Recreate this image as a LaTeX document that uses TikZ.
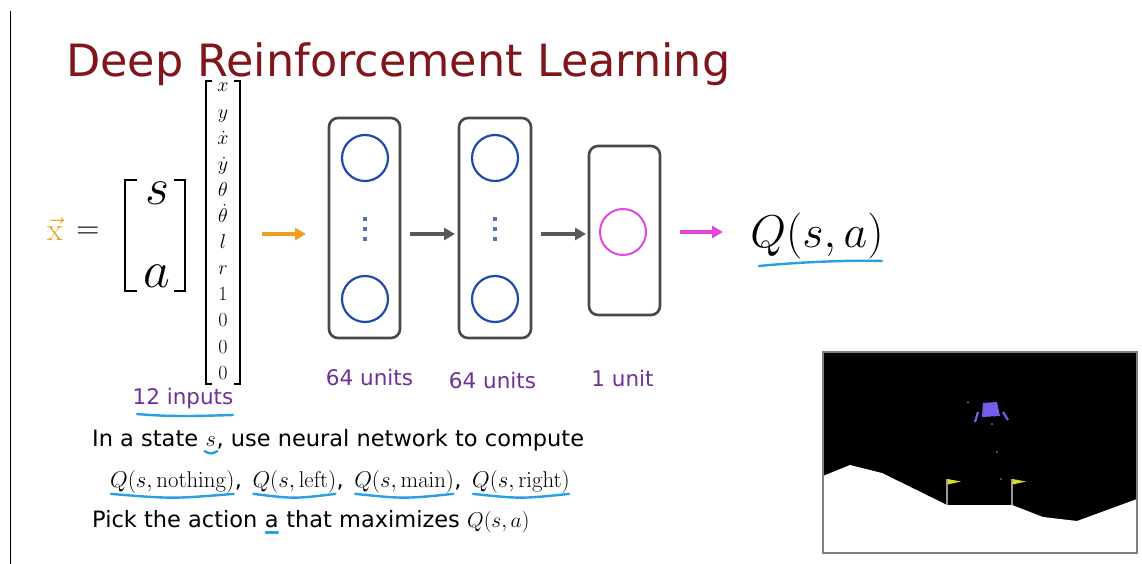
\RequirePackage{fix-cm}
\documentclass[tikz,border=0pt]{standalone}
\usepackage[no-math]{fontspec}
\setmainfont{DejaVu Sans}
\usetikzlibrary{arrows.meta}

\definecolor{titlered}{RGB}{128,22,28}
\definecolor{labelpurple}{RGB}{112,48,150}
\definecolor{markblue}{RGB}{40,160,225}
\definecolor{unitblue}{RGB}{30,75,170}
\definecolor{outmagenta}{RGB}{225,70,225}
\definecolor{inorange}{RGB}{240,158,30}
\definecolor{arrowgray}{RGB}{88,88,88}
\definecolor{boxgray}{RGB}{72,72,72}
\definecolor{dotblue}{RGB}{85,115,175}
\definecolor{landerpurple}{RGB}{118,92,235}
\definecolor{flagyellow}{RGB}{212,222,40}

\tikzset{
  layerbox/.style={draw=boxgray, line width=2.6, rounded corners=9},
  unit/.style={circle, draw=unitblue, line width=2.2, minimum size=46, inner sep=0},
  outunit/.style={circle, draw=outmagenta, line width=2, minimum size=46, inner sep=0},
  flow/.style={line width=3.6, -{Triangle[length=11,width=12]}},
  uline/.style={draw=markblue, line width=2.4, line cap=round},
  lbl/.style={text=labelpurple, inner sep=0, font=\fontsize{21.5}{25}\selectfont},
  body/.style={inner sep=0, font=\fontsize{22.5}{26}\selectfont},
  qterm/.style={inner sep=0, font=\fontsize{22.8}{26}\selectfont},
  entry/.style={inner sep=0, text height=8, text depth=2, font=\fontsize{20}{23}\selectfont},
  bracketline/.style={line width=1.6},
  bigbracket/.style={line width=2.2},
}

\begin{document}
\begin{tikzpicture}[x=1pt,y=-1pt]
\useasboundingbox (0,0) rectangle (1142,564);
\fill[white] (0,0) rectangle (1142,564);

% left margin rule
\draw[line width=1.2] (10.7,11) -- (10.7,564);

% title
\node[anchor=base west, inner sep=0, text=titlered,
      font=\fontsize{44.5}{52}\selectfont] (title) at (66,77) {Deep Reinforcement Learning};

% input vector x = [s; a]
\node[inner sep=0, text=inorange, font=\fontsize{32}{36}\selectfont] (xvec) at (55,229) {$\vec{\mathrm{x}}$};
\node[inner sep=0, font=\fontsize{32}{36}\selectfont] (eq) at (88,233) {$=$};
\draw[bigbracket] (137,180) -- (125,180) -- (125,291) -- (137,291);
\draw[bigbracket] (174,180) -- (185,180) -- (185,291) -- (174,291);
\node[inner sep=0, font=\fontsize{52}{58}\selectfont] (svar) at (157,193) {$s$};
\node[inner sep=0, font=\fontsize{52}{58}\selectfont] (avar) at (157,276) {$a$};

% 12-entry state/action column
\draw[bracketline] (212,81) -- (206,81) -- (206,384) -- (212,384);
\draw[bracketline] (234,81) -- (240,81) -- (240,384) -- (234,384);
\foreach \e [count=\i from 0] in {x, y, \dot x, \dot y, \theta, \dot\theta, l, r, 1, 0, 0, 0} {
  \node[entry] (e\i) at (223, {89 + 26.1*\i}) {$\e$};
}
\node[lbl, anchor=base] (inputs) at (183,404) {12 inputs};
\draw[uline] (137,414) .. controls (170,417) and (200,416) .. (233,415);

% network layers
\draw[layerbox] (329,118) rectangle (400,338);
\draw[layerbox] (459,118) rectangle (531,338);
\draw[layerbox] (589,146) rectangle (660,315);
\node[unit] (u1a) at (365,158) {};
\node[unit] (u1b) at (365,299) {};
\node[unit] (u2a) at (495,158) {};
\node[unit] (u2b) at (495,299) {};
\node[outunit] (u3) at (623,232) {};
\foreach \cx in {365,495} {
  \foreach \cy in {219,229,239} {
    \fill[dotblue] (\cx-1.8,\cy-2.4) rectangle (\cx+1.8,\cy+2.4);
  }
}

% flow arrows
\coordinate (inA) at (262,234);
\coordinate (inB) at (306,234);
\coordinate (h1A) at (410,234);
\coordinate (h1B) at (455,234);
\coordinate (h2A) at (541,234);
\coordinate (h2B) at (586,234);
\coordinate (outA) at (680,232);
\coordinate (outB) at (723,232);
\draw[flow, draw=inorange, fill=inorange] (inA) -- (inB);
\draw[flow, draw=arrowgray, fill=arrowgray] (h1A) -- (h1B);
\draw[flow, draw=arrowgray, fill=arrowgray] (h2A) -- (h2B);
\draw[flow, draw=outmagenta, fill=outmagenta] (outA) -- (outB);

% output
\node[inner sep=0, font=\fontsize{46}{52}\selectfont] (qout) at (817,236) {$Q(s,a)$};
\draw[uline] (759,266) .. controls (800,262) and (850,260) .. (882,261);

% layer sizes
\node[lbl, anchor=base] (n1) at (369.5,385) {64 units};
\node[lbl, anchor=base] (n2) at (492.5,388) {64 units};
\node[lbl, anchor=base] (n3) at (622.5,386) {1 unit};

% explanation lines
\node[body, anchor=base west] (t1a) at (92,446) {In a state~\mbox{}};
\node[body, anchor=base west] (t1s) at (t1a.base east) {$s$};
\node[body, anchor=base west] (t1b) at (t1s.base east) {, use neural network to compute};
\draw[uline] ([xshift=-1,yshift=-5]t1s.south west) .. controls ([yshift=-8]t1s.south) .. ([xshift=1,yshift=-5]t1s.south east);

\node[qterm, anchor=base west] (q1) at (110,487) {$Q(s,\mathrm{nothing})$};
\node[body, anchor=base west] (c1) at (q1.base east) {,\hspace{0.45em}\mbox{}};
\node[qterm, anchor=base west] (q2) at (c1.base east) {$Q(s,\mathrm{left})$};
\node[body, anchor=base west] (c2) at (q2.base east) {,\hspace{0.45em}\mbox{}};
\node[qterm, anchor=base west] (q3) at (c2.base east) {$Q(s,\mathrm{main})$};
\node[body, anchor=base west] (c3) at (q3.base east) {,\hspace{0.45em}\mbox{}};
\node[qterm, anchor=base west] (q4) at (c3.base east) {$Q(s,\mathrm{right})$};
\foreach \q in {q1,q2,q3,q4} {
  \draw[uline] ([xshift=1,yshift=-1]\q.south west) .. controls ([yshift=-6]\q.south) .. ([xshift=-1,yshift=-1]\q.south east);
}

\node[body, anchor=base west] (t3a) at (92,527) {Pick the action~\mbox{}};
\node[body, anchor=base west] (t3s) at (t3a.base east) {a};
\node[body, anchor=base west] (t3b) at (t3s.base east) {~that maximizes \fontsize{21.5}{26}\selectfont$Q(s,a)$};
\draw[uline] ([xshift=1,yshift=-5]t3s.south west) -- ([xshift=-1,yshift=-5]t3s.south east);

% lunar lander scene
\fill[black] (823,352) rectangle (1137,553);
\fill[white] (823,476) -- (850,465) -- (882,473) -- (947,505) -- (1012,505)
  -- (1043,517) -- (1077,521) -- (1137,499) -- (1137,553) -- (823,553) -- cycle;
\draw[gray, line width=1.3] (823,352) rectangle (1137,553);
\foreach \fx in {947,1012} {
  \draw[gray!80, line width=1.4] (\fx,505) -- (\fx,479);
  \fill[flagyellow] (\fx+0.5,479) -- (\fx+14,481.5) -- (\fx+0.5,484.5) -- cycle;
}
\fill[landerpurple] (983,403) -- (997,402) -- (1000,416) -- (982,417) -- cycle;
\draw[landerpurple, line width=2.2] (978,412) -- (975,422);
\draw[landerpurple, line width=2.2] (1003,412) -- (1008,420);
\foreach \dx/\dy in {968/402.5, 992/424, 997/452, 1001/479} {
  \fill[gray!70] (\dx,\dy) circle (0.9);
}
\end{tikzpicture}
\end{document}
